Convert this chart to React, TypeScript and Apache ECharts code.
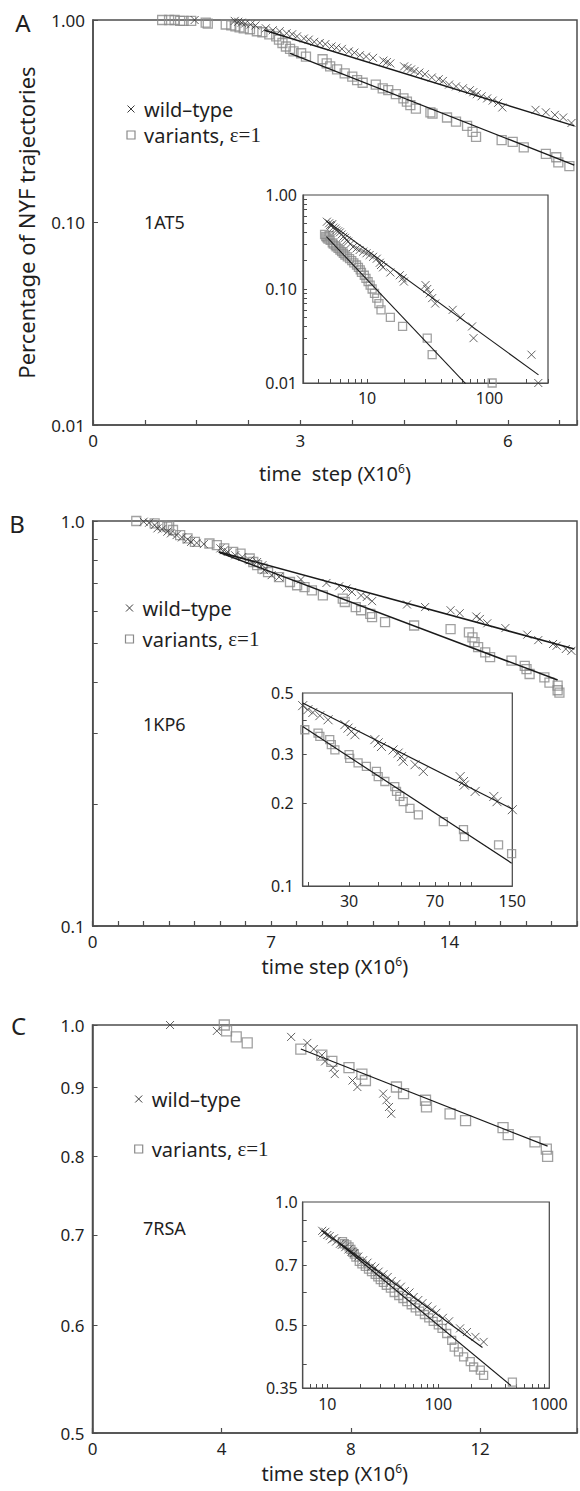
import React, { useEffect, useRef } from "react";
import * as echarts from "echarts";

type Pt = [number, number];

const FONT = "'Noto Sans', 'Open Sans', sans-serif";
const SERIF = "'Liberation Serif', 'DejaVu Serif', serif";
const INK = "#1f1f1f";
const AXIS = "#4d4d4d";
const CROSS_C = "#3a3a3a";
const SQUARE_C = "#8a8a8a";
const LINE_C = "#1a1a1a";
const CROSS_PATH = "path://M0,0L10,10M10,0L0,10";

const panelLetters = ["A", "B", "C"];
const proteinNames = ["1AT5", "1KP6", "7RSA"];
const legendWild = "wild\u2013type";
const legendVar = "variants, ";
const legendEps = "\u03b5=1";
const yTitle = "Percentage of NYF trajectories";
const xTitles = ["time  step (X10{sup|6})", "time step (X10{sup|6})", "time step (X10{sup|6})"];

// ---------- Panel A (1AT5) ----------
const aWild: Pt[] = [
  [1.47, 1.0], [2.05, 0.99], [2.1, 0.98], [2.15, 0.97], [2.2, 0.96], [2.28, 0.95], [2.35, 0.94], [2.5, 0.91],
  [2.6, 0.89], [2.7, 0.88], [2.8, 0.86], [2.88, 0.85], [2.95, 0.83], [3.05, 0.81], [3.12, 0.8], [3.2, 0.78],
  [3.28, 0.77], [3.36, 0.76], [3.45, 0.74], [3.52, 0.73], [3.6, 0.72], [3.7, 0.7], [3.78, 0.69], [3.86, 0.67],
  [3.95, 0.66], [4.05, 0.65], [4.2, 0.63], [4.25, 0.62], [4.3, 0.61], [4.5, 0.59], [4.55, 0.58], [4.6, 0.57],
  [4.65, 0.56], [4.72, 0.55], [4.8, 0.54], [4.9, 0.52], [5.0, 0.51], [5.06, 0.5], [5.15, 0.48], [5.25, 0.47],
  [5.35, 0.46], [5.45, 0.45], [5.5, 0.44], [5.55, 0.43], [5.62, 0.42], [5.7, 0.41], [5.78, 0.4], [5.86, 0.39],
  [5.92, 0.37], [6.4, 0.36], [6.55, 0.35], [6.68, 0.34], [6.8, 0.33], [6.92, 0.31],
];
const aVar: Pt[] = [
  [1.0, 1.0], [1.1, 1.0], [1.18, 1.0], [1.26, 0.99], [1.31, 0.99], [1.42, 0.99], [1.63, 0.97], [1.66, 0.96],
  [1.92, 0.95], [2.0, 0.94], [2.06, 0.93], [2.12, 0.92], [2.18, 0.91], [2.27, 0.9], [2.37, 0.88], [2.45, 0.87],
  [2.55, 0.85], [2.65, 0.83], [2.69, 0.8], [2.74, 0.77], [2.79, 0.74], [2.85, 0.72], [2.9, 0.7], [3.01, 0.685],
  [3.08, 0.66], [3.32, 0.64], [3.38, 0.61], [3.43, 0.59], [3.53, 0.57], [3.64, 0.545], [3.75, 0.525], [3.82, 0.505],
  [3.9, 0.49], [4.09, 0.48], [4.19, 0.46], [4.27, 0.45], [4.38, 0.43], [4.49, 0.41], [4.54, 0.395], [4.59, 0.38],
  [4.67, 0.365], [4.88, 0.35], [4.91, 0.345], [5.12, 0.33], [5.25, 0.315], [5.41, 0.3], [5.49, 0.28], [5.54, 0.265],
  [5.91, 0.255], [6.07, 0.25], [6.23, 0.235], [6.55, 0.218], [6.7, 0.21], [6.73, 0.198], [6.89, 0.19],
];
const aWildFit: Pt[] = [[2.48, 0.89], [6.96, 0.3]];
const aVarFit: Pt[] = [[2.85, 0.685], [6.96, 0.192]];

const aInWild: Pt[] = [
  [4.7, 0.52], [4.9, 0.5], [5.0, 0.48], [5.1, 0.47], [5.2, 0.49], [5.3, 0.45], [5.5, 0.44], [5.6, 0.42],
  [5.8, 0.41], [6.0, 0.4], [6.2, 0.38], [6.4, 0.36], [6.6, 0.35], [6.8, 0.33], [7.0, 0.32], [7.3, 0.3],
  [7.7, 0.28], [8.2, 0.27], [8.7, 0.26], [9.3, 0.25], [9.9, 0.24], [10.5, 0.23], [11.2, 0.22], [12.0, 0.21],
  [12.7, 0.19], [13.0, 0.18], [13.5, 0.17], [15.5, 0.15], [18.5, 0.14], [19.5, 0.13], [20.0, 0.12], [30.0, 0.11],
  [31.0, 0.1], [32.5, 0.09], [34.0, 0.08], [36.0, 0.07], [50.0, 0.06], [58.0, 0.05], [72.0, 0.04], [74.0, 0.03],
  [220, 0.02], [250, 0.01],
];
const aInVar: Pt[] = [
  [4.5, 0.38], [4.6, 0.36], [4.7, 0.35], [4.8, 0.34], [4.9, 0.37], [5.0, 0.33], [5.2, 0.31], [5.3, 0.3],
  [5.5, 0.29], [5.6, 0.28], [5.8, 0.27], [6.0, 0.26], [6.2, 0.25], [6.4, 0.24], [6.6, 0.23], [6.9, 0.22],
  [7.2, 0.21], [7.5, 0.2], [7.8, 0.19], [8.2, 0.18], [8.5, 0.17], [8.8, 0.16], [9.0, 0.15], [9.5, 0.14],
  [9.8, 0.13], [10.2, 0.12], [10.6, 0.11], [11.0, 0.1], [11.5, 0.09], [12.0, 0.08], [12.5, 0.07], [13.0, 0.06],
  [15.5, 0.05], [19.5, 0.04], [31.0, 0.03], [34.0, 0.02], [105, 0.01],
];
const aInWildFit: Pt[] = [[4.66, 0.53], [251, 0.0122]];
const aInVarFit: Pt[] = [[4.66, 0.36], [64, 0.0098]];

// ---------- Panel B (1KP6) ----------
const bWild: Pt[] = [
  [2.0, 0.996], [2.21, 0.99], [2.43, 0.977], [2.54, 0.959], [2.72, 0.954], [2.93, 0.941], [3.07, 0.932], [3.29, 0.923],
  [3.5, 0.911], [3.72, 0.901], [3.86, 0.888], [4.08, 0.883], [4.36, 0.877], [5.01, 0.856], [5.16, 0.847], [5.3, 0.839],
  [5.59, 0.823], [5.87, 0.815], [6.16, 0.8], [6.45, 0.792], [6.66, 0.778], [6.73, 0.756], [7.02, 0.735], [7.31, 0.727],
  [8.17, 0.717], [9.17, 0.703], [9.67, 0.69], [9.96, 0.681], [10.17, 0.668], [10.53, 0.655], [10.75, 0.649], [10.96, 0.634],
  [12.33, 0.622], [13.04, 0.613], [14.04, 0.602], [14.4, 0.592], [15.05, 0.581], [15.19, 0.573], [15.48, 0.559], [16.19, 0.544],
  [17.05, 0.524], [17.48, 0.508], [18.06, 0.497], [18.2, 0.492], [18.56, 0.483], [18.78, 0.478],
];
const bVar: Pt[] = [
  [1.71, 1.0], [2.43, 0.987], [2.72, 0.977], [2.93, 0.968], [3.0, 0.975], [3.15, 0.95], [3.43, 0.923], [3.72, 0.906],
  [4.01, 0.888], [4.58, 0.88], [4.87, 0.872], [5.16, 0.856], [5.51, 0.839], [5.8, 0.831], [6.16, 0.808], [6.3, 0.792],
  [6.45, 0.778], [6.66, 0.763], [6.88, 0.748], [7.31, 0.727], [7.74, 0.707], [8.02, 0.694], [8.31, 0.687], [8.6, 0.674],
  [9.03, 0.655], [9.81, 0.643], [9.89, 0.631], [10.32, 0.613], [10.53, 0.602], [10.89, 0.59], [10.96, 0.579], [11.47, 0.563],
  [12.61, 0.552], [14.04, 0.541], [14.76, 0.531], [14.9, 0.516], [14.98, 0.502], [15.12, 0.488], [15.4, 0.474], [15.59, 0.461],
  [16.43, 0.452], [16.95, 0.439], [17.02, 0.431], [17.14, 0.419], [17.72, 0.411], [17.92, 0.399], [18.24, 0.392], [18.24, 0.382],
  [18.31, 0.377],
];
const bWildFit: Pt[] = [[4.94, 0.839], [18.9, 0.483]];
const bVarFit: Pt[] = [[5.0, 0.835], [18.24, 0.405]];

const bInWild: Pt[] = [
  [19.0, 0.45], [20.0, 0.435], [21.0, 0.425], [22.5, 0.414], [24.4, 0.4], [28.8, 0.384], [29.7, 0.373], [30.7, 0.363],
  [31.8, 0.353], [38.7, 0.339], [40.0, 0.33], [41.3, 0.32], [46.3, 0.311], [48.7, 0.303], [50.3, 0.294], [51.2, 0.283],
  [57.5, 0.275], [62.4, 0.26], [89.7, 0.249], [92.7, 0.239], [93.5, 0.232], [104, 0.22], [125, 0.211], [129, 0.202],
  [150, 0.189],
];
const bInVar: Pt[] = [
  [19.4, 0.368], [22.1, 0.358], [22.5, 0.348], [24.8, 0.339], [25.2, 0.325], [26.1, 0.311], [30.0, 0.299], [30.2, 0.29],
  [32.8, 0.279], [35.6, 0.271], [39.3, 0.26], [40.0, 0.249], [42.7, 0.239], [47.1, 0.229], [47.9, 0.22], [49.5, 0.211],
  [51.2, 0.202], [54.7, 0.191], [59.4, 0.181], [76.0, 0.171], [92.7, 0.16], [93.5, 0.151], [131, 0.141], [149, 0.131],
];
const bInWildFit: Pt[] = [[19.0, 0.46], [150, 0.19]];
const bInVarFit: Pt[] = [[19.0, 0.378], [149, 0.121]];

// ---------- Panel C (7RSA) ----------
const cWild: Pt[] = [
  [2.4, 1.0], [3.85, 0.99], [6.15, 0.98], [6.65, 0.97], [6.85, 0.96], [7.1, 0.95], [7.2, 0.94], [7.45, 0.93],
  [7.5, 0.92], [8.05, 0.91], [8.2, 0.9], [9.0, 0.89], [9.1, 0.88], [9.18, 0.87], [9.25, 0.86],
];
const cVar: Pt[] = [
  [4.08, 1.0], [4.15, 0.99], [4.45, 0.98], [4.79, 0.97], [6.45, 0.96], [7.1, 0.95], [7.41, 0.94], [7.94, 0.93],
  [8.34, 0.92], [8.45, 0.91], [9.41, 0.9], [9.63, 0.89], [10.31, 0.88], [10.34, 0.87], [11.07, 0.86], [11.55, 0.85],
  [12.71, 0.84], [12.87, 0.83], [13.7, 0.82], [14.05, 0.81], [14.09, 0.8],
];
const cVarFit: Pt[] = [[6.45, 0.96], [14.09, 0.814]];

const cInWild: Pt[] = [
  [9.0, 0.85], [9.3, 0.84], [9.6, 0.845], [10.0, 0.83], [10.5, 0.825], [11.0, 0.81], [11.5, 0.815], [12.0, 0.8],
  [13.0, 0.79], [13.5, 0.785], [14.5, 0.775], [15.5, 0.765], [16.5, 0.755], [17.5, 0.75], [19.0, 0.735], [21.0, 0.72],
  [23.0, 0.71], [25.0, 0.695], [27.0, 0.69], [29.0, 0.675], [32.0, 0.665], [35.0, 0.655], [38.0, 0.64], [42.0, 0.63],
  [46.0, 0.62], [50.0, 0.605], [55.0, 0.6], [60.0, 0.585], [66.0, 0.575], [72.0, 0.565], [80.0, 0.555], [88.0, 0.545],
  [96.0, 0.535], [110, 0.52], [125, 0.51], [157, 0.49], [181, 0.48], [216, 0.467], [256, 0.454],
];
const cInVar: Pt[] = [
  [13.7, 0.8], [14.2, 0.79], [15.0, 0.785], [15.7, 0.776], [16.3, 0.765], [16.9, 0.754], [17.5, 0.745], [18.1, 0.733],
  [19.4, 0.715], [20.5, 0.705], [22.0, 0.695], [23.5, 0.685], [25.0, 0.675], [27.0, 0.665], [28.5, 0.655], [30.0, 0.645],
  [32.0, 0.635], [34.0, 0.625], [37.0, 0.615], [40.0, 0.6], [44.0, 0.59], [48.0, 0.58], [52.0, 0.57], [57.0, 0.56],
  [62.0, 0.55], [68.0, 0.54], [75.0, 0.53], [82.0, 0.52], [90.0, 0.51], [100, 0.5], [108, 0.49], [119, 0.476],
  [132, 0.458], [139, 0.441], [152, 0.429], [169, 0.417], [194, 0.406], [208, 0.394], [239, 0.387], [256, 0.376],
  [465, 0.362],
];
const cInWildFit: Pt[] = [[9.0, 0.85], [250, 0.44]];
const cInVarFit: Pt[] = [[13.0, 0.79], [450, 0.355]];

// ---------- tick / label values ----------
const aXLabels = [0, 3, 6];
const bXLabels = [0, 7, 14];
const cXLabels = [0, 4, 8, 12];
const aYLabels = [0.01, 0.1, 1];
const bYTicks = [0.1, 0.2, 0.3, 0.4, 0.5, 0.6, 0.7, 0.8, 0.9, 1];
const bYLabels = [0.1, 1];
const cYTicks = [0.5, 0.6, 0.7, 0.8, 0.9, 1];
const cYLabels = [0.5, 0.6, 0.7, 0.8, 0.9, 1];
const aInXTicks = [4, 5, 6, 7, 8, 9, 10, 20, 30, 40, 50, 60, 70, 80, 90, 100, 200, 300];
const aInXLabels = [10, 100];
const aInYTicks = [0.02, 0.03, 0.04, 0.05, 0.06, 0.07, 0.08, 0.09, 0.1, 0.2, 0.3, 0.4, 0.5, 0.6, 0.7, 0.8, 0.9];
const aInYLabels = [0.01, 0.1, 1];
const bInXTicks = [20, 30, 40, 50, 60, 70, 80, 90, 100];
const bInXLabels = [30, 70, 150];
const bInYTicks = [0.2, 0.3, 0.4];
const bInYLabels = [0.1, 0.2, 0.3, 0.5];
const cInXTicks = [7, 8, 9, 10, 20, 30, 40, 50, 60, 70, 80, 90, 100, 200, 300, 400, 500, 600, 700, 800, 900];
const cInXLabels = [10, 100, 1000];
const cInYTicks = [0.4, 0.5, 0.6, 0.7, 0.8, 0.9];
const cInYLabels = [0.35, 0.5, 0.7, 1];

const near = (list: number[], v: number) => list.some((l) => Math.abs(l - v) < 1e-6);

function mainGrid(left: number, top: number, width: number, height: number) {
  return { left, top, width, height, show: true, borderColor: AXIS, borderWidth: 1.5, backgroundColor: "transparent" };
}
function insetGrid(left: number, top: number, width: number, height: number) {
  return { left, top, width, height, show: true, borderColor: "#444", borderWidth: 1.2, backgroundColor: "transparent" };
}

function xMain(gridIndex: number, max: number, interval: number, labels: number[], title: string, nameGap: number) {
  return {
    type: "value",
    gridIndex,
    min: 0,
    max,
    interval,
    name: title,
    nameLocation: "middle",
    nameGap,
    nameTextStyle: {
      fontFamily: FONT,
      fontSize: 20,
      color: INK,
      rich: { sup: { fontFamily: FONT, fontSize: 12, color: INK, verticalAlign: "top", padding: [0, 0, 10, 0] } },
    },
    axisLine: { show: true, onZero: false, lineStyle: { color: AXIS, width: 1.5 } },
    axisTick: { show: true, inside: true, length: 5, lineStyle: { color: AXIS, width: 1.2 } },
    axisLabel: {
      fontFamily: FONT,
      fontSize: 17,
      color: INK,
      margin: 7,
      formatter: (v: number) => (near(labels, v) ? String(Math.round(v)) : ""),
    },
    splitLine: { show: false },
  };
}

function logAxis(
  gridIndex: number,
  min: number,
  max: number,
  ticks: number[] | null,
  labels: number[],
  fmt: (v: number) => string,
  fontSize: number,
  margin: number,
  tickLen: number,
  lineW: number,
) {
  const axisTick: any = { show: true, inside: true, length: tickLen, lineStyle: { color: AXIS, width: 1 } };
  if (ticks) axisTick.customValues = ticks;
  return {
    type: "log",
    logBase: 10,
    gridIndex,
    min,
    max,
    axisLine: { show: true, onZero: false, lineStyle: { color: AXIS, width: lineW } },
    axisTick,
    axisLabel: {
      customValues: labels,
      formatter: fmt,
      fontFamily: FONT,
      fontSize,
      color: INK,
      margin,
    },
    splitLine: { show: false },
    minorTick: { show: false },
  };
}

function crosses(data: Pt[], xi: number, size: number) {
  return {
    type: "scatter",
    xAxisIndex: xi,
    yAxisIndex: xi,
    data,
    symbol: CROSS_PATH,
    symbolSize: size,
    itemStyle: { color: "rgba(0,0,0,0)", borderColor: CROSS_C, borderWidth: 1 },
    clip: false,
    silent: true,
    z: 3,
  };
}
function squares(data: Pt[], xi: number, size: number) {
  return {
    type: "scatter",
    xAxisIndex: xi,
    yAxisIndex: xi,
    data,
    symbol: "rect",
    symbolSize: size,
    itemStyle: { color: "rgba(0,0,0,0)", borderColor: SQUARE_C, borderWidth: 1.3 },
    clip: false,
    silent: true,
    z: 2,
  };
}
function fit(data: Pt[], xi: number, width: number) {
  return {
    type: "line",
    xAxisIndex: xi,
    yAxisIndex: xi,
    data,
    symbol: "none",
    lineStyle: { color: LINE_C, width },
    silent: true,
    z: 4,
  };
}

function legend(x: number, y1: number, y2: number) {
  const h = 3.5;
  return [
    { type: "line", shape: { x1: x - h, y1: y1 - h, x2: x + h, y2: y1 + h }, style: { stroke: CROSS_C, lineWidth: 1 } },
    { type: "line", shape: { x1: x - h, y1: y1 + h, x2: x + h, y2: y1 - h }, style: { stroke: CROSS_C, lineWidth: 1 } },
    {
      type: "text",
      x: x + 13,
      y: y1,
      style: { text: legendWild, fontFamily: FONT, fontSize: 20, lineHeight: 22, fill: INK, verticalAlign: "middle", align: "left" },
    },
    { type: "rect", shape: { x: x - 4, y: y2 - 4, width: 8, height: 8 }, style: { fill: "none", stroke: SQUARE_C, lineWidth: 1.2 } },
    {
      type: "text",
      x: x + 13,
      y: y2,
      style: {
        text: legendVar + "{e|" + legendEps + "}",
        fontFamily: FONT,
        fontSize: 20,
        lineHeight: 22,
        fill: INK,
        verticalAlign: "middle",
        align: "left",
        rich: { e: { fontFamily: SERIF, fontSize: 21, lineHeight: 22, fill: INK } },
      },
    },
  ];
}

function label(text: string, x: number, y: number, size: number) {
  return { type: "text", x, y, style: { text, fontFamily: FONT, fontSize: size, fill: INK, verticalAlign: "middle", align: "left" } };
}

export default function App() {
  const ref = useRef<HTMLDivElement>(null);
  useEffect(() => {
    if (!ref.current) return;
    const chart = echarts.init(ref.current, undefined, { renderer: "svg" });
    const f2 = (v: number) => v.toFixed(2);
    const f1 = (v: number) => v.toFixed(1);
    const fInt = (v: number) => String(Math.round(v));
    const fC = (v: number) => (Math.abs(v - 0.35) < 1e-6 ? "0.35" : v.toFixed(1));

    const option: any = {
      animation: false,
      backgroundColor: "#fff",
      grid: [
        mainGrid(93, 20, 490, 405),
        insetGrid(303, 195, 245, 188),
        mainGrid(92.7, 521, 490.3, 405),
        insetGrid(302.7, 693, 209.6, 193),
        mainGrid(92.5, 1025, 492.5, 408),
        insetGrid(302.7, 1202, 246.6, 186),
      ],
      xAxis: [
        xMain(0, 7, 0.75, aXLabels, xTitles[0], 37),
        logAxis(1, 3, 300, aInXTicks, aInXLabels, fInt, 16, 7, 4, 1.2),
        xMain(2, 19, 1, bXLabels, xTitles[1], 29),
        logAxis(3, 19, 150, bInXTicks, bInXLabels, fInt, 16, 7, 4, 1.2),
        xMain(4, 15, 4, cXLabels, xTitles[2], 29),
        logAxis(5, 6, 1000, cInXTicks, cInXLabels, fInt, 16, 8, 4, 1.2),
      ],
      yAxis: [
        {
          ...logAxis(0, 0.01, 1, null, aYLabels, f2, 17, 8, 5, 1.5),
          name: yTitle,
          nameLocation: "middle",
          nameGap: 56,
          nameTextStyle: { fontFamily: FONT, fontSize: 22, color: INK },
        },
        logAxis(1, 0.01, 1, aInYTicks, aInYLabels, f2, 16, 6, 4, 1.2),
        logAxis(2, 0.1, 1, bYTicks, bYLabels, f1, 17, 8, 5, 1.5),
        logAxis(3, 0.1, 0.5, bInYTicks, bInYLabels, f1, 16, 9, 4, 1.2),
        logAxis(4, 0.5, 1, cYTicks, cYLabels, f1, 17, 8, 5, 1.5),
        logAxis(5, 0.35, 1, cInYTicks, cInYLabels, fC, 16, 5, 4, 1.2),
      ],
      series: [
        squares(aVar, 0, 9),
        crosses(aWild, 0, 8),
        fit(aWildFit, 0, 1.5),
        fit(aVarFit, 0, 1.3),
        squares(aInVar, 1, 8),
        crosses(aInWild, 1, 8),
        fit(aInWildFit, 1, 1.1),
        fit(aInVarFit, 1, 1.1),
        squares(bVar, 2, 9),
        crosses(bWild, 2, 8),
        fit(bWildFit, 2, 1.6),
        fit(bVarFit, 2, 1.6),
        squares(bInVar, 3, 8),
        crosses(bInWild, 3, 9),
        fit(bInWildFit, 3, 1.2),
        fit(bInVarFit, 3, 1.2),
        squares(cVar, 4, 10),
        crosses(cWild, 4, 8),
        fit(cVarFit, 4, 1.2),
        squares(cInVar, 5, 8),
        crosses(cInWild, 5, 8),
        fit(cInWildFit, 5, 1.2),
        fit(cInVarFit, 5, 1.2),
      ],
      graphic: [
        { type: "text", x: 23, y: 22, style: { text: panelLetters[0], fontFamily: FONT, fontSize: 24, fill: INK, align: "center", verticalAlign: "middle" } },
        { type: "text", x: 17, y: 523, style: { text: panelLetters[1], fontFamily: FONT, fontSize: 24, fill: INK, align: "center", verticalAlign: "middle" } },
        { type: "text", x: 18.5, y: 1025, style: { text: panelLetters[2], fontFamily: FONT, fontSize: 24, fill: INK, align: "center", verticalAlign: "middle" } },
        label(proteinNames[0], 144, 222, 18),
        label(proteinNames[1], 143, 724, 18),
        label(proteinNames[2], 143, 1228, 18),
        ...legend(131, 109, 135),
        ...legend(129.5, 608, 639),
        ...legend(138.7, 1099, 1149),
      ],
    };
    chart.setOption(option);
    return () => chart.dispose();
  }, []);
  return <div ref={ref} style={{ position: "absolute", left: 0, top: 0, width: 580, height: 1491 }} />;
}
